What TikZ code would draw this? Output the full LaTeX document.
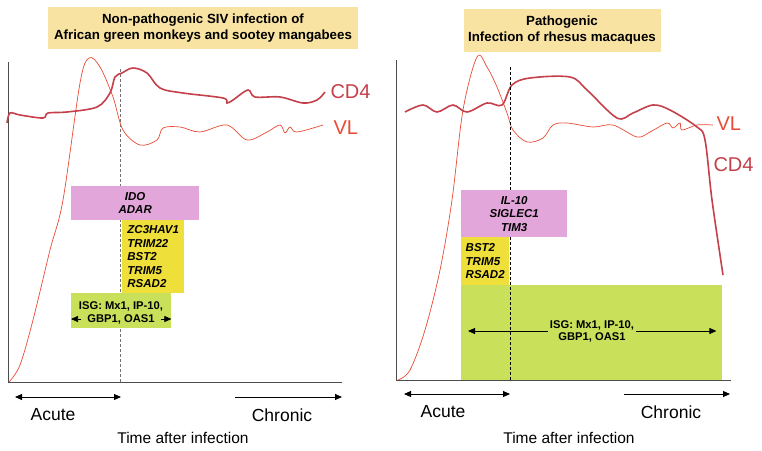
\documentclass[tikz,border=0pt]{standalone}
\usepackage{fontspec}
\setmainfont{Liberation Sans}
\usetikzlibrary{arrows.meta, positioning}
\definecolor{titlefill}{HTML}{F8E3A3}
\definecolor{pinkfill}{HTML}{E3A6DA}
\definecolor{yellowfill}{HTML}{EEDF3A}
\definecolor{greenfill}{HTML}{C9E05A}
\definecolor{vlred}{HTML}{E84A35}
\definecolor{cdred}{HTML}{C4404A}

\begin{document}
\begin{tikzpicture}[x=1pt, y=-1pt, >={Triangle[length=7pt, width=6pt]},
    titlebox/.style={fill=titlefill, font=\bfseries\fontsize{13.3}{16}\selectfont, align=center, inner sep=0pt},
    genebox/.style={font=\bfseries\itshape\fontsize{11.5}{13.5}\selectfont, inner sep=0pt, anchor=north west},
    isgtext/.style={font=\bfseries\fontsize{11.2}{12}\selectfont, inner ysep=0pt, inner xsep=2pt},
    curvelabel/.style={font=\fontsize{20}{24}\selectfont, anchor=west},
    phase/.style={font=\fontsize{17.5}{20}\selectfont},
    timelabel/.style={font=\fontsize{15.5}{18}\selectfont},
    axisline/.style={line width=0.8pt, black!70},
    vlcurve/.style={vlred, line width=0.7pt},
    cdcurve/.style={cdred, line width=1.6pt}]
    \useasboundingbox (0,0) rectangle (762,450);

    % ---------- left panel: non-pathogenic ----------
    \node[titlebox, minimum width=310, minimum height=42] (titleL) at (203,28)
        {Non-pathogenic SIV infection of\\African green monkeys and sootey mangabees};
    \coordinate (oL) at (8,382);
    \draw[axisline] (8,62) -- (oL) -- (342,382);
    \draw[black!55, line width=0.8pt, dash pattern=on 3pt off 2pt] (120,69) -- (120,382);

    % VL and CD4
    \draw[vlcurve] plot[smooth, tension=0.55] coordinates {(9,382) (20,365) (33,320) (50,250) (63,200)
        (80,83) (89,58) (100,67) (113,97) (123,130) (140,145) (157,140) (163,128) (180,127) (200,132)
        (227,125) (247,140) (267,132) (280,125) (285,133) (290,127) (297,132) (323,125)};
    \draw[cdcurve] plot[smooth, tension=0.55] coordinates {(7,123) (10,113) (20,115) (43,118) (48,113)
        (67,112) (97,107) (110,93) (115,77) (122,73) (133,68) (147,73) (160,88) (183,93) (223,98)
        (227,103) (233,100) (248,90) (255,97) (280,97) (303,103) (317,100) (325,92)};
    \node[curvelabel, vlred] (vlL) at (330,128) {VL};
    \node[curvelabel, cdred] (cdL) at (327,92) {CD4};

    % gene boxes
    \node[genebox, fill=pinkfill, minimum width=128, minimum height=34, align=center] (idoL) at (71,186) {IDO\\ADAR};
    \node[genebox, fill=yellowfill, minimum width=62, minimum height=73, align=left] (zcL) at (122,220)
        {ZC3HAV1\\TRIM22\\BST2\\TRIM5\\RSAD2};
    \node[genebox, fill=greenfill, minimum width=100, minimum height=35] (isgL) at (71,293) {};
    \node[isgtext] (isgtxtL) at (121,306) {ISG: Mx1, IP-10,};
    \node[isgtext, inner xsep=6pt] (gbpL) at (121,319) {GBP1, OAS1};
    \draw[->, line width=0.6pt] (gbpL.west) -- (isgL.west |- gbpL);
    \draw[->, line width=0.6pt] (gbpL.east) -- (isgL.east |- gbpL);

    % time axis
    \coordinate (acL1) at (15,397);
    \coordinate (acL2) at (121,397);
    \coordinate (chL1) at (235,397);
    \coordinate (chL2) at (342,397);
    \draw[<->, line width=0.9pt] (acL1) -- (acL2);
    \draw[->, line width=0.9pt] (chL1) -- (chL2);
    \node[phase] (acuteL) at (53,415) {Acute};
    \node[phase] (chronicL) at (282,415) {Chronic};
    \node[timelabel] (timeL) at (183,438) {Time after infection};

    % ---------- right panel: pathogenic ----------
    \node[titlebox, minimum width=197, minimum height=43] (titleR) at (562,30)
        {Pathogenic\\Infection of rhesus macaques};
    \coordinate (oR) at (396,380);
    \draw[axisline] (396,60) -- (oR) -- (731,380);

    % VL and CD4
    \draw[vlcurve] plot[smooth, tension=0.55] coordinates {(398,380) (410,370) (425,330) (440,270) (452,200)
        (463,110) (477,57) (487,67) (497,87) (507,113) (513,130) (527,142) (543,138) (553,125) (567,123)
        (593,127) (613,125) (637,137) (650,132) (667,123) (673,128) (680,123) (682,130) (697,125) (713,125)};
    \draw[cdcurve] plot[smooth, tension=0.55] coordinates {(405,112) (423,105) (437,112) (453,105) (467,112)
        (487,103) (502,105) (512,85) (530,78) (570,77) (587,90) (617,118) (633,113) (653,105) (670,110)
        (697,127) (705,140) (712,200) (723,275)};
    \node[curvelabel, vlred] (vlR) at (713,124) {VL};
    \node[curvelabel, cdred] (cdR) at (710,165) {CD4};

    % gene boxes
    \node[genebox, fill=yellowfill, minimum width=48, minimum height=48, align=left] (bstR) at (461,237)
        {BST2\\TRIM5\\RSAD2};
    \node[genebox, fill=greenfill, minimum width=261, minimum height=95] (isgR) at (461,285) {};
    \draw[black, line width=0.7pt, dash pattern=on 3pt off 2pt] (510,67) -- (510,380);
    \node[genebox, fill=pinkfill, minimum width=106, minimum height=47, align=center] (ilR) at (461,190)
        {IL-10\\SIGLEC1\\TIM3};
    \node[isgtext, fill=greenfill, align=center, inner sep=2pt] (isgtxtR) at (592,331) {ISG: Mx1, IP-10,\\GBP1, OAS1};
    \draw[->, line width=0.8pt] (isgtxtR.west) -- ([xshift=7pt]isgR.west |- isgtxtR);
    \draw[->, line width=0.8pt] (isgtxtR.east) -- ([xshift=-6pt]isgR.east |- isgtxtR);

    % time axis
    \coordinate (acR1) at (404,394);
    \coordinate (acR2) at (510,394);
    \coordinate (chR1) at (624,394);
    \coordinate (chR2) at (730,394);
    \draw[<->, line width=0.9pt] (acR1) -- (acR2);
    \draw[->, line width=0.9pt] (chR1) -- (chR2);
    \node[phase] (acuteR) at (443,412) {Acute};
    \node[phase] (chronicR) at (671,412) {Chronic};
    \node[timelabel] (timeR) at (569,438) {Time after infection};
\end{tikzpicture}
\end{document}
